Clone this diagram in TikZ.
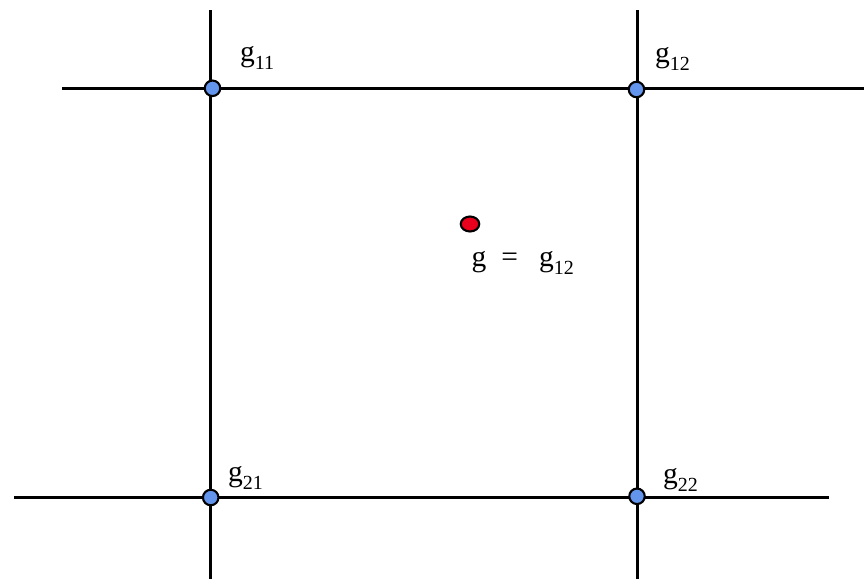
\documentclass[tikz,border=0pt]{standalone}
\usepackage{fontspec}
\setmainfont{Liberation Serif}
\usetikzlibrary{shapes.geometric}
\definecolor{ptblue}{RGB}{100,149,237}
\definecolor{ptred}{RGB}{232,0,28}
\newcommand\lowsub[1]{\raisebox{-8pt}{\fontsize{20}{24}\selectfont #1}}
\tikzset{
  gridline/.style={line width=3pt},
  gpoint/.style={circle, draw=black, fill=ptblue, line width=2.1pt, minimum size=15.5pt, inner sep=0pt},
  rpoint/.style={ellipse, draw=black, fill=ptred, line width=2.1pt, minimum width=18.5pt, minimum height=15pt, inner sep=0pt},
  glabel/.style={font=\fontsize{29.5}{34}\selectfont, anchor=base west, inner sep=0pt}
}
\begin{document}
\begin{tikzpicture}[x=1pt,y=-1pt]
\useasboundingbox (0,0) rectangle (864,579);
\coordinate (v1t) at (210.5,10);
\coordinate (v1b) at (210.5,579);
\coordinate (v2t) at (637,10);
\coordinate (v2b) at (637,579);
\coordinate (h1l) at (62,88);
\coordinate (h1r) at (864,88);
\coordinate (h2l) at (14,497.5);
\coordinate (h2r) at (829,497.5);
\draw[gridline] (v1t) -- (v1b);
\draw[gridline] (v2t) -- (v2b);
\draw[gridline] (h1l) -- (h1r);
\draw[gridline] (h2l) -- (h2r);
\node[gpoint] (p11) at (212.5,88.3) {};
\node[gpoint] (p12) at (636.5,89.5) {};
\node[gpoint] (p21) at (210.7,497.5) {};
\node[gpoint] (p22) at (637,496.3) {};
\node[rpoint] (pg) at (470,224) {};
\node[glabel] (l11) at (240,61) {g\lowsub{11}};
\node[glabel] (l12) at (655,62) {g\lowsub{12}};
\node[glabel] (l21) at (228,481) {g\lowsub{21}};
\node[glabel] (l22) at (663,483) {g\lowsub{22}};
\node[glabel] (lg) at (471.5,266) {g\hspace{15pt}=\hspace{21pt}g\lowsub{12}};
\end{tikzpicture}
\end{document}
